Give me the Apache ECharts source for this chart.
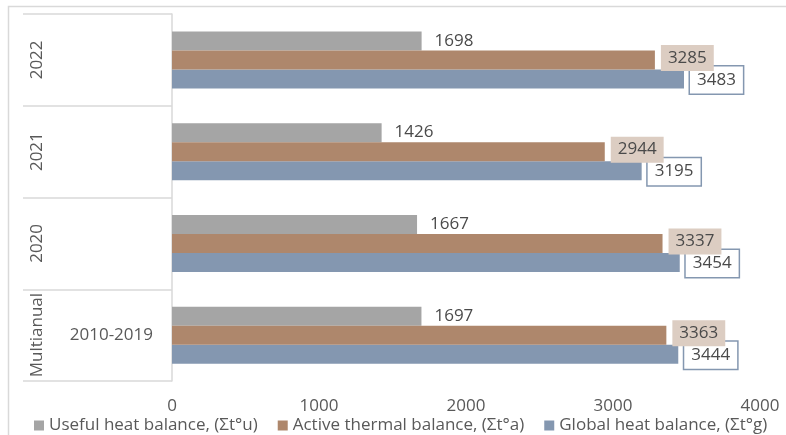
<!DOCTYPE html>
<html>
<head>
<meta charset="utf-8">
<script src="https://cdn.jsdelivr.net/npm/echarts@6/dist/echarts.min.js"></script>
<style>
  html, body { margin: 0; padding: 0; background: #fff; }
  #chart { width: 786px; height: 435px; }
</style>
</head>
<body>
<div id="chart"></div>
<script>
// Heat balance per period (top to bottom)
const periods = ['2022', '2021', '2020', 'Multianual'];
const periodSpans = ['', '', '', '2010-2019'];
const usefulHeat = [1698, 1426, 1667, 1697];
const activeThermal = [3285, 2944, 3337, 3363];
const globalHeat = [3483, 3195, 3454, 3444];
const seriesNames = [
  'Useful heat balance, (Σt°u)',
  'Active thermal balance, (Σt°a)',
  'Global heat balance, (Σt°g)'
];
const xTicks = [0, 1000, 2000, 3000, 4000];

const FONT = '"Open Sans", "Noto Sans", sans-serif';
const FS = 17;
const AXIS_GREY = '#d9d9d9';
const TEXT = '#595959';

const chart = echarts.init(document.getElementById('chart'), null, { renderer: 'canvas' });

const baseLabel = { show: true, position: 'right', fontFamily: FONT, fontSize: FS, color: '#4a4a4a' };

chart.setOption({
  animation: false,
  textStyle: { fontFamily: FONT },
  graphic: [{
    type: 'rect',
    shape: { x: 8.5, y: 6.5, width: 800, height: 460 },
    style: { fill: 'none', stroke: AXIS_GREY, lineWidth: 1.5 },
    silent: true
  }],
  grid: { left: 172, right: 26, top: 14, bottom: 54, containLabel: false },
  legend: {
    data: seriesNames,
    left: 29,
    top: 412,
    icon: 'rect',
    itemWidth: 10,
    itemHeight: 10,
    itemGap: 20,
    textStyle: { fontFamily: FONT, fontSize: FS, color: TEXT }
  },
  xAxis: {
    type: 'value',
    min: xTicks[0],
    max: xTicks[xTicks.length - 1],
    interval: xTicks[1] - xTicks[0],
    axisLine: { show: false },
    axisTick: { show: false },
    splitLine: { show: false },
    axisLabel: {
      margin: 17, fontFamily: FONT, fontSize: FS, color: TEXT,
      formatter: v => String(v)
    }
  },
  yAxis: [{
    type: 'category',
    data: periods,
    inverse: true,
    position: 'left',
    axisLine: { show: true, lineStyle: { color: AXIS_GREY, width: 1.5 } },
    axisTick: { show: true, length: 149, lineStyle: { color: AXIS_GREY, width: 1.5 } },
    splitLine: { show: false },
    axisLabel: { interval: 0, rotate: 90, margin: 126, fontFamily: FONT, fontSize: FS, color: TEXT }
  }, {
    type: 'category',
    data: periodSpans,
    inverse: true,
    position: 'left',
    offset: 0,
    axisLine: { show: false },
    axisTick: { show: false },
    splitLine: { show: false },
    axisLabel: { interval: 0, margin: 19, fontFamily: FONT, fontSize: FS, color: TEXT }
  }],
  series: [{
    name: seriesNames[0],
    type: 'bar',
    yAxisIndex: 0,
    data: usefulHeat,
    barWidth: 19,
    barGap: '0%',
    z: 2,
    itemStyle: { color: '#a5a5a5' },
    label: Object.assign({}, baseLabel, { distance: 13 })
  }, {
    name: seriesNames[1],
    type: 'bar',
    yAxisIndex: 0,
    data: activeThermal,
    barWidth: 19,
    barGap: '0%',
    z: 4,
    itemStyle: { color: '#ae876c' },
    label: Object.assign({}, baseLabel, {
      distance: 6,
      offset: [0, -2],
      lineHeight: 19,
      backgroundColor: '#dccdc2',
      padding: [4, 7, 3, 7]
    })
  }, {
    name: seriesNames[2],
    type: 'bar',
    yAxisIndex: 0,
    data: globalHeat,
    barWidth: 19,
    barGap: '0%',
    z: 3,
    itemStyle: { color: '#8497b0' },
    label: Object.assign({}, baseLabel, {
      distance: 6,
      offset: [0, 1],
      lineHeight: 19,
      backgroundColor: '#ffffff',
      borderColor: '#8497b0',
      borderWidth: 1.5,
      padding: [5, 7, 3, 7]
    })
  }]
});
</script>
</body>
</html>
